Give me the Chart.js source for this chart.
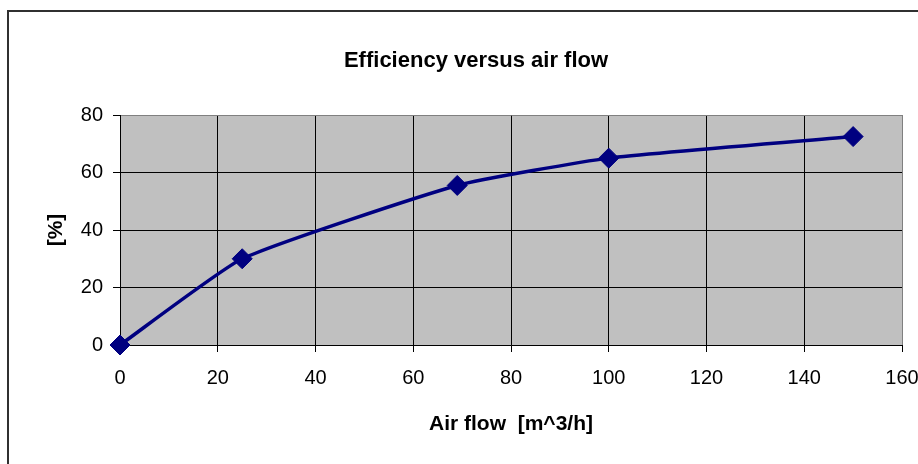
<!DOCTYPE html>
<html>
<head>
<meta charset="utf-8">
<script src="https://cdn.jsdelivr.net/npm/chart.js@4/dist/chart.umd.min.js"></script>
<style>
  html, body { margin: 0; padding: 0; background: #fff; }
  canvas { display: block; }
</style>
</head>
<body>
<canvas id="effChart" width="918" height="464"></canvas>
<script>
// Werte
const airFlow = [0, 25, 69, 100, 150];
const efficiency = [0, 30, 55.5, 65, 72.5];
const xTicks = [0, 20, 40, 60, 80, 100, 120, 140, 160];
const yTicks = [0, 20, 40, 60, 80];

const chartTitle = 'Efficiency versus air flow';
const xTitle = 'Air flow  [m^3/h]';
const yTitle = '[%]';

const FONT = '"Liberation Sans", Arial, sans-serif';

// grauer Hintergrund der Zeichenfläche + Rahmen + Titel
const excelLook = {
  id: 'excelLook',
  beforeDraw(chart) {
    const { ctx, chartArea: a } = chart;
    ctx.save();
    ctx.fillStyle = '#C0C0C0';
    ctx.fillRect(a.left, a.top, a.right - a.left, a.bottom - a.top);
    ctx.restore();
  },
  afterDraw(chart) {
    const { ctx } = chart;
    ctx.save();
    ctx.strokeStyle = '#303030';
    ctx.lineWidth = 2;
    ctx.beginPath();
    ctx.moveTo(8, 464);
    ctx.lineTo(8, 11);
    ctx.lineTo(918, 11);
    ctx.stroke();

    ctx.fillStyle = '#000';
    ctx.font = 'bold 22px ' + FONT;
    ctx.textAlign = 'center';
    ctx.textBaseline = 'middle';
    ctx.fillText(chartTitle, 476, 61);
    ctx.restore();
  }
};

new Chart(document.getElementById('effChart'), {
  type: 'line',
  data: {
    datasets: [{
      data: airFlow.map((x, i) => ({ x: x, y: efficiency[i] })),
      borderColor: '#000080',
      borderWidth: 3.5,
      backgroundColor: '#000080',
      pointBackgroundColor: '#000080',
      pointBorderColor: '#000080',
      pointStyle: 'rectRot',
      pointRadius: 10,
      pointBorderWidth: 1,
      tension: 0.15,
      clip: false
    }]
  },
  options: {
    responsive: false,
    animation: false,
    events: [],
    layout: { padding: { top: 115, right: 16, left: 0, bottom: 0 } },
    plugins: {
      legend: { display: false },
      title: { display: false },
      tooltip: { enabled: false }
    },
    scales: {
      x: {
        type: 'linear',
        min: 0,
        max: 160,
        afterBuildTicks: s => { s.ticks = xTicks.map(v => ({ value: v })); },
        afterFit: s => { s.height = 119; s.paddingLeft = 0; s.paddingRight = 0; },
        ticks: { color: '#000', font: { family: FONT, size: 20 }, padding: 14, maxRotation: 0 },
        grid: {
          color: c => (c.tick && c.tick.value === 160 ? '#808080' : '#000'),
          lineWidth: 1,
          tickLength: 7,
          tickColor: '#000'
        },
        border: { color: '#000', width: 1 },
        title: {
          display: true,
          text: xTitle,
          color: '#000',
          font: { family: FONT, size: 21, weight: 'bold' },
          padding: { top: 0, bottom: 27 }
        }
      },
      y: {
        min: 0,
        max: 80,
        afterBuildTicks: s => { s.ticks = yTicks.map(v => ({ value: v })); },
        afterFit: s => { s.width = 120; s.paddingTop = 0; s.paddingBottom = 0; },
        ticks: { color: '#000', font: { family: FONT, size: 20 }, padding: 10 },
        grid: {
          color: c => (c.tick && c.tick.value === 80 ? '#808080' : '#000'),
          lineWidth: 1,
          tickLength: 7,
          tickColor: '#000'
        },
        border: { color: '#000', width: 1 },
        title: {
          display: true,
          text: yTitle,
          color: '#000',
          font: { family: FONT, size: 21, weight: 'bold' },
          padding: { top: 44, bottom: 0 }
        }
      }
    }
  },
  plugins: [excelLook]
});
</script>
</body>
</html>
